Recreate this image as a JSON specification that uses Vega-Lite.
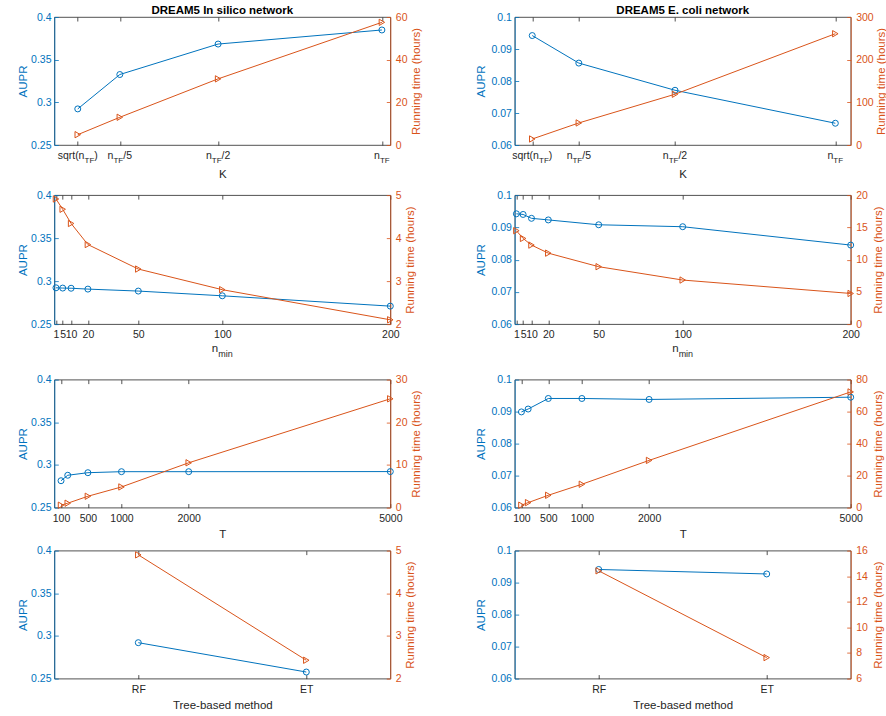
{
  "$schema": "https://vega.github.io/schema/vega-lite/v6.json",
  "background": "white",
  "autosize": {"type": "pad"},
  "padding": {"left": 16.3, "top": 4, "right": 5, "bottom": 5},
  "datasets": {
    "is_k": [
      {"K": 13.96, "label": "sqrt(nTF)", "AUPR": 0.2923, "time": 4.84},
      {"K": 39, "label": "nTF/5", "AUPR": 0.3326, "time": 13.0},
      {"K": 97.5, "label": "nTF/2", "AUPR": 0.3683, "time": 31.0},
      {"K": 195, "label": "nTF", "AUPR": 0.3848, "time": 57.5}
    ],
    "ec_k": [
      {"K": 18.28, "label": "sqrt(nTF)", "AUPR": 0.0942, "time": 14.1},
      {"K": 66.8, "label": "nTF/5", "AUPR": 0.0856, "time": 51.7},
      {"K": 167, "label": "nTF/2", "AUPR": 0.0771, "time": 119},
      {"K": 334, "label": "nTF", "AUPR": 0.0668, "time": 260.8}
    ],
    "is_nmin": [
      {"nmin": 1, "AUPR": 0.2922, "time": 4.91},
      {"nmin": 5, "AUPR": 0.2919, "time": 4.67},
      {"nmin": 10, "AUPR": 0.2917, "time": 4.34},
      {"nmin": 20, "AUPR": 0.2907, "time": 3.85},
      {"nmin": 50, "AUPR": 0.2884, "time": 3.28},
      {"nmin": 100, "AUPR": 0.2829, "time": 2.80},
      {"nmin": 200, "AUPR": 0.2709, "time": 2.10}
    ],
    "ec_nmin": [
      {"nmin": 1, "AUPR": 0.0942, "time": 14.48},
      {"nmin": 5, "AUPR": 0.0940, "time": 13.28},
      {"nmin": 10, "AUPR": 0.0928, "time": 12.25},
      {"nmin": 20, "AUPR": 0.0923, "time": 11.0},
      {"nmin": 50, "AUPR": 0.0908, "time": 8.9},
      {"nmin": 100, "AUPR": 0.0902, "time": 6.83},
      {"nmin": 200, "AUPR": 0.0845, "time": 4.75}
    ],
    "is_T": [
      {"T": 100, "AUPR": 0.2815, "time": 0.56},
      {"T": 200, "AUPR": 0.2879, "time": 1.03},
      {"T": 500, "AUPR": 0.2909, "time": 2.66},
      {"T": 1000, "AUPR": 0.2921, "time": 4.84},
      {"T": 2000, "AUPR": 0.2921, "time": 10.5},
      {"T": 5000, "AUPR": 0.2922, "time": 25.5}
    ],
    "ec_T": [
      {"T": 100, "AUPR": 0.0899, "time": 1.5},
      {"T": 200, "AUPR": 0.0908, "time": 3.1},
      {"T": 500, "AUPR": 0.0941, "time": 7.7},
      {"T": 1000, "AUPR": 0.0941, "time": 14.6},
      {"T": 2000, "AUPR": 0.0938, "time": 29.5},
      {"T": 5000, "AUPR": 0.0945, "time": 72.3}
    ],
    "is_m": [
      {"method": "RF", "AUPR": 0.2921, "time": 4.9},
      {"method": "ET", "AUPR": 0.2577, "time": 2.43}
    ],
    "ec_m": [
      {"method": "RF", "AUPR": 0.0941, "time": 14.42},
      {"method": "ET", "AUPR": 0.0927, "time": 7.64}
    ]
  },
  "vconcat": [
    {
      "hconcat": [
        {
          "width": 336, "height": 128,
          "title": {"text": "DREAM5 In silico network", "frame": "group", "anchor": "middle", "font": "Liberation Sans", "fontSize": 11.5, "fontWeight": "bold", "color": "#000000", "offset": -13.7, "baseline": "alphabetic"},
          "data": {"name": "is_k"},
          "layer": [
            {"mark": {"type": "line", "color": "#0072BD", "strokeWidth": 1},
             "encoding": {
               "x": {"field": "K", "type": "quantitative", "scale": {"domain": [0, 200], "nice": false, "zero": false}, "axis": {"orient": "bottom", "values": [13.96, 39, 97.5, 195], "labels": false, "title": "K", "titleY": 23.7}},
               "y": {"field": "AUPR", "type": "quantitative", "scale": {"domain": [0.25, 0.4], "nice": false, "zero": false}, "axis": {"orient": "left", "values": [0.25, 0.3, 0.35, 0.4], "format": ".2~f", "title": "AUPR", "titleX": -26}}}},
            {"mark": {"type": "point", "shape": "circle", "filled": false, "color": "#0072BD", "size": 36, "strokeWidth": 1, "opacity": 1},
             "encoding": {
               "x": {"field": "K", "type": "quantitative", "scale": {"domain": [0, 200], "nice": false, "zero": false}, "axis": null},
               "y": {"field": "AUPR", "type": "quantitative", "scale": {"domain": [0.25, 0.4], "nice": false, "zero": false}, "axis": null}}},
            {"transform": [{"filter": "datum.label === 'sqrt(nTF)'"}],
             "mark": {"type": "text", "text": "sqrt(n", "font": "Liberation Sans", "fontSize": 10.5, "color": "#262626", "align": "left", "baseline": "alphabetic", "dx": -20.1, "dy": 13.5},
             "encoding": {"x": {"field": "K", "type": "quantitative", "scale": {"domain": [0, 200], "nice": false, "zero": false}, "axis": null}, "y": {"datum": 0.25, "type": "quantitative", "scale": {"domain": [0.25, 0.4], "nice": false, "zero": false}, "axis": null}}},
            {"transform": [{"filter": "datum.label === 'sqrt(nTF)'"}],
             "mark": {"type": "text", "text": "TF", "font": "Liberation Sans", "fontSize": 8, "color": "#262626", "align": "left", "baseline": "alphabetic", "dx": 6.8, "dy": 18},
             "encoding": {"x": {"field": "K", "type": "quantitative", "scale": {"domain": [0, 200], "nice": false, "zero": false}, "axis": null}, "y": {"datum": 0.25, "type": "quantitative", "scale": {"domain": [0.25, 0.4], "nice": false, "zero": false}, "axis": null}}},
            {"transform": [{"filter": "datum.label === 'sqrt(nTF)'"}],
             "mark": {"type": "text", "text": ")", "font": "Liberation Sans", "fontSize": 10.5, "color": "#262626", "align": "left", "baseline": "alphabetic", "dx": 16.6, "dy": 13.5},
             "encoding": {"x": {"field": "K", "type": "quantitative", "scale": {"domain": [0, 200], "nice": false, "zero": false}, "axis": null}, "y": {"datum": 0.25, "type": "quantitative", "scale": {"domain": [0.25, 0.4], "nice": false, "zero": false}, "axis": null}}},
            {"transform": [{"filter": "datum.label === 'nTF/5' || datum.label === 'nTF/2'"}],
             "mark": {"type": "text", "text": "n", "font": "Liberation Sans", "fontSize": 10.5, "color": "#262626", "align": "left", "baseline": "alphabetic", "dx": -12.2, "dy": 13.5},
             "encoding": {"x": {"field": "K", "type": "quantitative", "scale": {"domain": [0, 200], "nice": false, "zero": false}, "axis": null}, "y": {"datum": 0.25, "type": "quantitative", "scale": {"domain": [0.25, 0.4], "nice": false, "zero": false}, "axis": null}}},
            {"transform": [{"filter": "datum.label === 'nTF/5' || datum.label === 'nTF/2'"}],
             "mark": {"type": "text", "text": "TF", "font": "Liberation Sans", "fontSize": 8, "color": "#262626", "align": "left", "baseline": "alphabetic", "dx": -6.35, "dy": 18},
             "encoding": {"x": {"field": "K", "type": "quantitative", "scale": {"domain": [0, 200], "nice": false, "zero": false}, "axis": null}, "y": {"datum": 0.25, "type": "quantitative", "scale": {"domain": [0.25, 0.4], "nice": false, "zero": false}, "axis": null}}},
            {"transform": [{"filter": "datum.label === 'nTF/5'"}],
             "mark": {"type": "text", "text": "/5", "font": "Liberation Sans", "fontSize": 10.5, "color": "#262626", "align": "left", "baseline": "alphabetic", "dx": 3.43, "dy": 13.5},
             "encoding": {"x": {"field": "K", "type": "quantitative", "scale": {"domain": [0, 200], "nice": false, "zero": false}, "axis": null}, "y": {"datum": 0.25, "type": "quantitative", "scale": {"domain": [0.25, 0.4], "nice": false, "zero": false}, "axis": null}}},
            {"transform": [{"filter": "datum.label === 'nTF/2'"}],
             "mark": {"type": "text", "text": "/2", "font": "Liberation Sans", "fontSize": 10.5, "color": "#262626", "align": "left", "baseline": "alphabetic", "dx": 3.43, "dy": 13.5},
             "encoding": {"x": {"field": "K", "type": "quantitative", "scale": {"domain": [0, 200], "nice": false, "zero": false}, "axis": null}, "y": {"datum": 0.25, "type": "quantitative", "scale": {"domain": [0.25, 0.4], "nice": false, "zero": false}, "axis": null}}},
            {"transform": [{"filter": "datum.label === 'nTF'"}],
             "mark": {"type": "text", "text": "n", "font": "Liberation Sans", "fontSize": 10.5, "color": "#262626", "align": "left", "baseline": "alphabetic", "dx": -7.8, "dy": 13.5},
             "encoding": {"x": {"field": "K", "type": "quantitative", "scale": {"domain": [0, 200], "nice": false, "zero": false}, "axis": null}, "y": {"datum": 0.25, "type": "quantitative", "scale": {"domain": [0.25, 0.4], "nice": false, "zero": false}, "axis": null}}},
            {"transform": [{"filter": "datum.label === 'nTF'"}],
             "mark": {"type": "text", "text": "TF", "font": "Liberation Sans", "fontSize": 8, "color": "#262626", "align": "left", "baseline": "alphabetic", "dx": -1.97, "dy": 18},
             "encoding": {"x": {"field": "K", "type": "quantitative", "scale": {"domain": [0, 200], "nice": false, "zero": false}, "axis": null}, "y": {"datum": 0.25, "type": "quantitative", "scale": {"domain": [0.25, 0.4], "nice": false, "zero": false}, "axis": null}}},
            {"mark": {"type": "line", "color": "#D95319", "strokeWidth": 1},
             "encoding": {
               "x": {"field": "K", "type": "quantitative", "scale": {"domain": [0, 200], "nice": false, "zero": false}, "axis": {"orient": "top", "values": [13.96, 39, 97.5, 195], "labels": false, "title": null}},
               "y": {"field": "time", "type": "quantitative", "scale": {"domain": [0, 60], "nice": false, "zero": false}, "axis": {"orient": "right", "values": [0, 20, 40, 60], "title": "Running time (hours)", "titleX": 20.5}}}},
            {"mark": {"type": "point", "shape": "triangle-right", "filled": false, "color": "#D95319", "size": 40, "strokeWidth": 1, "opacity": 1},
             "encoding": {
               "x": {"field": "K", "type": "quantitative", "scale": {"domain": [0, 200], "nice": false, "zero": false}, "axis": null},
               "y": {"field": "time", "type": "quantitative", "scale": {"domain": [0, 60], "nice": false, "zero": false}, "axis": null}}}
          ],
          "resolve": {"scale": {"y": "independent"}, "axis": {"x": "independent"}}
        },
        {
          "width": 336, "height": 128,
          "title": {"text": "DREAM5 E. coli network", "frame": "group", "anchor": "middle", "font": "Liberation Sans", "fontSize": 11.5, "fontWeight": "bold", "color": "#000000", "offset": -13.7, "baseline": "alphabetic"},
          "data": {"name": "ec_k"},
          "layer": [
            {"mark": {"type": "line", "color": "#0072BD", "strokeWidth": 1},
             "encoding": {
               "x": {"field": "K", "type": "quantitative", "scale": {"domain": [0, 350], "nice": false, "zero": false}, "axis": {"orient": "bottom", "values": [18.28, 66.8, 167, 334], "labels": false, "title": "K", "titleY": 23.7}},
               "y": {"field": "AUPR", "type": "quantitative", "scale": {"domain": [0.06, 0.1], "nice": false, "zero": false}, "axis": {"orient": "left", "values": [0.06, 0.07, 0.08, 0.09, 0.1], "format": ".2~f", "title": "AUPR", "titleX": -28.5}}}},
            {"mark": {"type": "point", "shape": "circle", "filled": false, "color": "#0072BD", "size": 36, "strokeWidth": 1, "opacity": 1},
             "encoding": {
               "x": {"field": "K", "type": "quantitative", "scale": {"domain": [0, 350], "nice": false, "zero": false}, "axis": null},
               "y": {"field": "AUPR", "type": "quantitative", "scale": {"domain": [0.06, 0.1], "nice": false, "zero": false}, "axis": null}}},
            {"transform": [{"filter": "datum.label === 'sqrt(nTF)'"}],
             "mark": {"type": "text", "text": "sqrt(n", "font": "Liberation Sans", "fontSize": 10.5, "color": "#262626", "align": "left", "baseline": "alphabetic", "dx": -20.1, "dy": 13.5},
             "encoding": {"x": {"field": "K", "type": "quantitative", "scale": {"domain": [0, 350], "nice": false, "zero": false}, "axis": null}, "y": {"datum": 0.06, "type": "quantitative", "scale": {"domain": [0.06, 0.1], "nice": false, "zero": false}, "axis": null}}},
            {"transform": [{"filter": "datum.label === 'sqrt(nTF)'"}],
             "mark": {"type": "text", "text": "TF", "font": "Liberation Sans", "fontSize": 8, "color": "#262626", "align": "left", "baseline": "alphabetic", "dx": 6.8, "dy": 18},
             "encoding": {"x": {"field": "K", "type": "quantitative", "scale": {"domain": [0, 350], "nice": false, "zero": false}, "axis": null}, "y": {"datum": 0.06, "type": "quantitative", "scale": {"domain": [0.06, 0.1], "nice": false, "zero": false}, "axis": null}}},
            {"transform": [{"filter": "datum.label === 'sqrt(nTF)'"}],
             "mark": {"type": "text", "text": ")", "font": "Liberation Sans", "fontSize": 10.5, "color": "#262626", "align": "left", "baseline": "alphabetic", "dx": 16.6, "dy": 13.5},
             "encoding": {"x": {"field": "K", "type": "quantitative", "scale": {"domain": [0, 350], "nice": false, "zero": false}, "axis": null}, "y": {"datum": 0.06, "type": "quantitative", "scale": {"domain": [0.06, 0.1], "nice": false, "zero": false}, "axis": null}}},
            {"transform": [{"filter": "datum.label === 'nTF/5' || datum.label === 'nTF/2'"}],
             "mark": {"type": "text", "text": "n", "font": "Liberation Sans", "fontSize": 10.5, "color": "#262626", "align": "left", "baseline": "alphabetic", "dx": -12.2, "dy": 13.5},
             "encoding": {"x": {"field": "K", "type": "quantitative", "scale": {"domain": [0, 350], "nice": false, "zero": false}, "axis": null}, "y": {"datum": 0.06, "type": "quantitative", "scale": {"domain": [0.06, 0.1], "nice": false, "zero": false}, "axis": null}}},
            {"transform": [{"filter": "datum.label === 'nTF/5' || datum.label === 'nTF/2'"}],
             "mark": {"type": "text", "text": "TF", "font": "Liberation Sans", "fontSize": 8, "color": "#262626", "align": "left", "baseline": "alphabetic", "dx": -6.35, "dy": 18},
             "encoding": {"x": {"field": "K", "type": "quantitative", "scale": {"domain": [0, 350], "nice": false, "zero": false}, "axis": null}, "y": {"datum": 0.06, "type": "quantitative", "scale": {"domain": [0.06, 0.1], "nice": false, "zero": false}, "axis": null}}},
            {"transform": [{"filter": "datum.label === 'nTF/5'"}],
             "mark": {"type": "text", "text": "/5", "font": "Liberation Sans", "fontSize": 10.5, "color": "#262626", "align": "left", "baseline": "alphabetic", "dx": 3.43, "dy": 13.5},
             "encoding": {"x": {"field": "K", "type": "quantitative", "scale": {"domain": [0, 350], "nice": false, "zero": false}, "axis": null}, "y": {"datum": 0.06, "type": "quantitative", "scale": {"domain": [0.06, 0.1], "nice": false, "zero": false}, "axis": null}}},
            {"transform": [{"filter": "datum.label === 'nTF/2'"}],
             "mark": {"type": "text", "text": "/2", "font": "Liberation Sans", "fontSize": 10.5, "color": "#262626", "align": "left", "baseline": "alphabetic", "dx": 3.43, "dy": 13.5},
             "encoding": {"x": {"field": "K", "type": "quantitative", "scale": {"domain": [0, 350], "nice": false, "zero": false}, "axis": null}, "y": {"datum": 0.06, "type": "quantitative", "scale": {"domain": [0.06, 0.1], "nice": false, "zero": false}, "axis": null}}},
            {"transform": [{"filter": "datum.label === 'nTF'"}],
             "mark": {"type": "text", "text": "n", "font": "Liberation Sans", "fontSize": 10.5, "color": "#262626", "align": "left", "baseline": "alphabetic", "dx": -7.8, "dy": 13.5},
             "encoding": {"x": {"field": "K", "type": "quantitative", "scale": {"domain": [0, 350], "nice": false, "zero": false}, "axis": null}, "y": {"datum": 0.06, "type": "quantitative", "scale": {"domain": [0.06, 0.1], "nice": false, "zero": false}, "axis": null}}},
            {"transform": [{"filter": "datum.label === 'nTF'"}],
             "mark": {"type": "text", "text": "TF", "font": "Liberation Sans", "fontSize": 8, "color": "#262626", "align": "left", "baseline": "alphabetic", "dx": -1.97, "dy": 18},
             "encoding": {"x": {"field": "K", "type": "quantitative", "scale": {"domain": [0, 350], "nice": false, "zero": false}, "axis": null}, "y": {"datum": 0.06, "type": "quantitative", "scale": {"domain": [0.06, 0.1], "nice": false, "zero": false}, "axis": null}}},
            {"mark": {"type": "line", "color": "#D95319", "strokeWidth": 1},
             "encoding": {
               "x": {"field": "K", "type": "quantitative", "scale": {"domain": [0, 350], "nice": false, "zero": false}, "axis": {"orient": "top", "values": [18.28, 66.8, 167, 334], "labels": false, "title": null}},
               "y": {"field": "time", "type": "quantitative", "scale": {"domain": [0, 300], "nice": false, "zero": false}, "axis": {"orient": "right", "values": [0, 100, 200, 300], "title": "Running time (hours)", "titleX": 24.5}}}},
            {"mark": {"type": "point", "shape": "triangle-right", "filled": false, "color": "#D95319", "size": 40, "strokeWidth": 1, "opacity": 1},
             "encoding": {
               "x": {"field": "K", "type": "quantitative", "scale": {"domain": [0, 350], "nice": false, "zero": false}, "axis": null},
               "y": {"field": "time", "type": "quantitative", "scale": {"domain": [0, 300], "nice": false, "zero": false}, "axis": null}}}
          ],
          "resolve": {"scale": {"y": "independent"}, "axis": {"x": "independent"}}
        }
      ],
      "spacing": 51.4
    },
    {
      "vconcat": [
        {
          "hconcat": [
            {
              "width": 336, "height": 129,
              "data": {"name": "is_nmin"},
              "layer": [
                {"mark": {"type": "line", "color": "#0072BD", "strokeWidth": 1},
                 "encoding": {
                   "x": {"field": "nmin", "type": "quantitative", "scale": {"domain": [0, 200], "nice": false, "zero": false}, "axis": {"orient": "bottom", "values": [1, 5, 10, 20, 50, 100, 200], "title": null}},
                   "y": {"field": "AUPR", "type": "quantitative", "scale": {"domain": [0.25, 0.4], "nice": false, "zero": false}, "axis": {"orient": "left", "values": [0.25, 0.3, 0.35, 0.4], "format": ".2~f", "title": "AUPR", "titleX": -26}}}},
                {"mark": {"type": "point", "shape": "circle", "filled": false, "color": "#0072BD", "size": 36, "strokeWidth": 1, "opacity": 1},
                 "encoding": {
                   "x": {"field": "nmin", "type": "quantitative", "scale": {"domain": [0, 200], "nice": false, "zero": false}, "axis": null},
                   "y": {"field": "AUPR", "type": "quantitative", "scale": {"domain": [0.25, 0.4], "nice": false, "zero": false}, "axis": null}}},
                {"transform": [{"filter": "datum.nmin === 100"}],
                 "mark": {"type": "text", "text": "n", "font": "Liberation Sans", "fontSize": 11.5, "color": "#262626", "align": "left", "baseline": "alphabetic", "dx": -10.45, "dy": 27.5},
                 "encoding": {"x": {"field": "nmin", "type": "quantitative", "scale": {"domain": [0, 200], "nice": false, "zero": false}, "axis": null}, "y": {"datum": 0.25, "type": "quantitative", "scale": {"domain": [0.25, 0.4], "nice": false, "zero": false}, "axis": null}}},
                {"transform": [{"filter": "datum.nmin === 100"}],
                 "mark": {"type": "text", "text": "min", "font": "Liberation Sans", "fontSize": 9, "color": "#262626", "align": "left", "baseline": "alphabetic", "dx": -4.06, "dy": 32.5},
                 "encoding": {"x": {"field": "nmin", "type": "quantitative", "scale": {"domain": [0, 200], "nice": false, "zero": false}, "axis": null}, "y": {"datum": 0.25, "type": "quantitative", "scale": {"domain": [0.25, 0.4], "nice": false, "zero": false}, "axis": null}}},
                {"mark": {"type": "line", "color": "#D95319", "strokeWidth": 1},
                 "encoding": {
                   "x": {"field": "nmin", "type": "quantitative", "scale": {"domain": [0, 200], "nice": false, "zero": false}, "axis": {"orient": "top", "values": [1, 5, 10, 20, 50, 100, 200], "labels": false, "title": null}},
                   "y": {"field": "time", "type": "quantitative", "scale": {"domain": [2, 5], "nice": false, "zero": false}, "axis": {"orient": "right", "values": [2, 3, 4, 5], "title": "Running time (hours)", "titleX": 14.5}}}},
                {"mark": {"type": "point", "shape": "triangle-right", "filled": false, "color": "#D95319", "size": 40, "strokeWidth": 1, "opacity": 1},
                 "encoding": {
                   "x": {"field": "nmin", "type": "quantitative", "scale": {"domain": [0, 200], "nice": false, "zero": false}, "axis": null},
                   "y": {"field": "time", "type": "quantitative", "scale": {"domain": [2, 5], "nice": false, "zero": false}, "axis": null}}}
              ],
              "resolve": {"scale": {"y": "independent"}, "axis": {"x": "independent"}}
            },
            {
              "width": 336, "height": 129,
              "data": {"name": "ec_nmin"},
              "layer": [
                {"mark": {"type": "line", "color": "#0072BD", "strokeWidth": 1},
                 "encoding": {
                   "x": {"field": "nmin", "type": "quantitative", "scale": {"domain": [0, 200], "nice": false, "zero": false}, "axis": {"orient": "bottom", "values": [1, 5, 10, 20, 50, 100, 200], "title": null}},
                   "y": {"field": "AUPR", "type": "quantitative", "scale": {"domain": [0.06, 0.1], "nice": false, "zero": false}, "axis": {"orient": "left", "values": [0.06, 0.07, 0.08, 0.09, 0.1], "format": ".2~f", "title": "AUPR", "titleX": -28.5}}}},
                {"mark": {"type": "point", "shape": "circle", "filled": false, "color": "#0072BD", "size": 36, "strokeWidth": 1, "opacity": 1},
                 "encoding": {
                   "x": {"field": "nmin", "type": "quantitative", "scale": {"domain": [0, 200], "nice": false, "zero": false}, "axis": null},
                   "y": {"field": "AUPR", "type": "quantitative", "scale": {"domain": [0.06, 0.1], "nice": false, "zero": false}, "axis": null}}},
                {"transform": [{"filter": "datum.nmin === 100"}],
                 "mark": {"type": "text", "text": "n", "font": "Liberation Sans", "fontSize": 11.5, "color": "#262626", "align": "left", "baseline": "alphabetic", "dx": -10.45, "dy": 27.5},
                 "encoding": {"x": {"field": "nmin", "type": "quantitative", "scale": {"domain": [0, 200], "nice": false, "zero": false}, "axis": null}, "y": {"datum": 0.06, "type": "quantitative", "scale": {"domain": [0.06, 0.1], "nice": false, "zero": false}, "axis": null}}},
                {"transform": [{"filter": "datum.nmin === 100"}],
                 "mark": {"type": "text", "text": "min", "font": "Liberation Sans", "fontSize": 9, "color": "#262626", "align": "left", "baseline": "alphabetic", "dx": -4.06, "dy": 32.5},
                 "encoding": {"x": {"field": "nmin", "type": "quantitative", "scale": {"domain": [0, 200], "nice": false, "zero": false}, "axis": null}, "y": {"datum": 0.06, "type": "quantitative", "scale": {"domain": [0.06, 0.1], "nice": false, "zero": false}, "axis": null}}},
                {"mark": {"type": "line", "color": "#D95319", "strokeWidth": 1},
                 "encoding": {
                   "x": {"field": "nmin", "type": "quantitative", "scale": {"domain": [0, 200], "nice": false, "zero": false}, "axis": {"orient": "top", "values": [1, 5, 10, 20, 50, 100, 200], "labels": false, "title": null}},
                   "y": {"field": "time", "type": "quantitative", "scale": {"domain": [0, 20], "nice": false, "zero": false}, "axis": {"orient": "right", "values": [0, 5, 10, 15, 20], "title": "Running time (hours)", "titleX": 22}}}},
                {"mark": {"type": "point", "shape": "triangle-right", "filled": false, "color": "#D95319", "size": 40, "strokeWidth": 1, "opacity": 1},
                 "encoding": {
                   "x": {"field": "nmin", "type": "quantitative", "scale": {"domain": [0, 200], "nice": false, "zero": false}, "axis": null},
                   "y": {"field": "time", "type": "quantitative", "scale": {"domain": [0, 20], "nice": false, "zero": false}, "axis": null}}}
              ],
              "resolve": {"scale": {"y": "independent"}, "axis": {"x": "independent"}}
            }
          ],
          "spacing": 57.4
        },
        {
          "vconcat": [
            {
              "hconcat": [
                {
                  "width": 336, "height": 128,
                  "data": {"name": "is_T"},
                  "layer": [
                    {"mark": {"type": "line", "color": "#0072BD", "strokeWidth": 1},
                     "encoding": {
                       "x": {"field": "T", "type": "quantitative", "scale": {"domain": [0, 5000], "nice": false, "zero": false}, "axis": {"orient": "bottom", "values": [100, 500, 1000, 2000, 5000], "format": "d", "title": "T", "titleY": 20.5}},
                       "y": {"field": "AUPR", "type": "quantitative", "scale": {"domain": [0.25, 0.4], "nice": false, "zero": false}, "axis": {"orient": "left", "values": [0.25, 0.3, 0.35, 0.4], "format": ".2~f", "title": "AUPR", "titleX": -26}}}},
                    {"mark": {"type": "point", "shape": "circle", "filled": false, "color": "#0072BD", "size": 36, "strokeWidth": 1, "opacity": 1},
                     "encoding": {
                       "x": {"field": "T", "type": "quantitative", "scale": {"domain": [0, 5000], "nice": false, "zero": false}, "axis": null},
                       "y": {"field": "AUPR", "type": "quantitative", "scale": {"domain": [0.25, 0.4], "nice": false, "zero": false}, "axis": null}}},
                    {"mark": {"type": "line", "color": "#D95319", "strokeWidth": 1},
                     "encoding": {
                       "x": {"field": "T", "type": "quantitative", "scale": {"domain": [0, 5000], "nice": false, "zero": false}, "axis": {"orient": "top", "values": [100, 500, 1000, 2000, 5000], "labels": false, "title": null}},
                       "y": {"field": "time", "type": "quantitative", "scale": {"domain": [0, 30], "nice": false, "zero": false}, "axis": {"orient": "right", "values": [0, 10, 20, 30], "title": "Running time (hours)", "titleX": 20.5}}}},
                    {"mark": {"type": "point", "shape": "triangle-right", "filled": false, "color": "#D95319", "size": 40, "strokeWidth": 1, "opacity": 1},
                     "encoding": {
                       "x": {"field": "T", "type": "quantitative", "scale": {"domain": [0, 5000], "nice": false, "zero": false}, "axis": null},
                       "y": {"field": "time", "type": "quantitative", "scale": {"domain": [0, 30], "nice": false, "zero": false}, "axis": null}}}
                  ],
                  "resolve": {"scale": {"y": "independent"}, "axis": {"x": "independent"}}
                },
                {
                  "width": 336, "height": 128,
                  "data": {"name": "ec_T"},
                  "layer": [
                    {"mark": {"type": "line", "color": "#0072BD", "strokeWidth": 1},
                     "encoding": {
                       "x": {"field": "T", "type": "quantitative", "scale": {"domain": [0, 5000], "nice": false, "zero": false}, "axis": {"orient": "bottom", "values": [100, 500, 1000, 2000, 5000], "format": "d", "title": "T", "titleY": 20.5}},
                       "y": {"field": "AUPR", "type": "quantitative", "scale": {"domain": [0.06, 0.1], "nice": false, "zero": false}, "axis": {"orient": "left", "values": [0.06, 0.07, 0.08, 0.09, 0.1], "format": ".2~f", "title": "AUPR", "titleX": -28.5}}}},
                    {"mark": {"type": "point", "shape": "circle", "filled": false, "color": "#0072BD", "size": 36, "strokeWidth": 1, "opacity": 1},
                     "encoding": {
                       "x": {"field": "T", "type": "quantitative", "scale": {"domain": [0, 5000], "nice": false, "zero": false}, "axis": null},
                       "y": {"field": "AUPR", "type": "quantitative", "scale": {"domain": [0.06, 0.1], "nice": false, "zero": false}, "axis": null}}},
                    {"mark": {"type": "line", "color": "#D95319", "strokeWidth": 1},
                     "encoding": {
                       "x": {"field": "T", "type": "quantitative", "scale": {"domain": [0, 5000], "nice": false, "zero": false}, "axis": {"orient": "top", "values": [100, 500, 1000, 2000, 5000], "labels": false, "title": null}},
                       "y": {"field": "time", "type": "quantitative", "scale": {"domain": [0, 80], "nice": false, "zero": false}, "axis": {"orient": "right", "values": [0, 20, 40, 60, 80], "title": "Running time (hours)", "titleX": 22}}}},
                    {"mark": {"type": "point", "shape": "triangle-right", "filled": false, "color": "#D95319", "size": 40, "strokeWidth": 1, "opacity": 1},
                     "encoding": {
                       "x": {"field": "T", "type": "quantitative", "scale": {"domain": [0, 5000], "nice": false, "zero": false}, "axis": null},
                       "y": {"field": "time", "type": "quantitative", "scale": {"domain": [0, 80], "nice": false, "zero": false}, "axis": null}}}
                  ],
                  "resolve": {"scale": {"y": "independent"}, "axis": {"x": "independent"}}
                }
              ],
              "spacing": 51.4
            },
            {
              "hconcat": [
                {
                  "width": 336, "height": 128,
                  "data": {"name": "is_m"},
                  "layer": [
                    {"mark": {"type": "line", "color": "#0072BD", "strokeWidth": 1},
                     "encoding": {
                       "x": {"field": "method", "type": "nominal", "scale": {"type": "point", "domain": ["RF", "ET"], "padding": 0.5}, "axis": {"orient": "bottom", "ticks": true, "title": "Tree-based method", "titleY": 20.5}},
                       "y": {"field": "AUPR", "type": "quantitative", "scale": {"domain": [0.25, 0.4], "nice": false, "zero": false}, "axis": {"orient": "left", "values": [0.25, 0.3, 0.35, 0.4], "format": ".2~f", "title": "AUPR", "titleX": -26}}}},
                    {"mark": {"type": "point", "shape": "circle", "filled": false, "color": "#0072BD", "size": 36, "strokeWidth": 1, "opacity": 1},
                     "encoding": {
                       "x": {"field": "method", "type": "nominal", "scale": {"type": "point", "domain": ["RF", "ET"], "padding": 0.5}, "axis": null},
                       "y": {"field": "AUPR", "type": "quantitative", "scale": {"domain": [0.25, 0.4], "nice": false, "zero": false}, "axis": null}}},
                    {"mark": {"type": "line", "color": "#D95319", "strokeWidth": 1},
                     "encoding": {
                       "x": {"field": "method", "type": "nominal", "scale": {"type": "point", "domain": ["RF", "ET"], "padding": 0.5}, "axis": {"orient": "top", "ticks": true, "labels": false, "title": null}},
                       "y": {"field": "time", "type": "quantitative", "scale": {"domain": [2, 5], "nice": false, "zero": false}, "axis": {"orient": "right", "values": [2, 3, 4, 5], "title": "Running time (hours)", "titleX": 14.5}}}},
                    {"mark": {"type": "point", "shape": "triangle-right", "filled": false, "color": "#D95319", "size": 40, "strokeWidth": 1, "opacity": 1},
                     "encoding": {
                       "x": {"field": "method", "type": "nominal", "scale": {"type": "point", "domain": ["RF", "ET"], "padding": 0.5}, "axis": null},
                       "y": {"field": "time", "type": "quantitative", "scale": {"domain": [2, 5], "nice": false, "zero": false}, "axis": null}}}
                  ],
                  "resolve": {"scale": {"y": "independent"}, "axis": {"x": "independent"}}
                },
                {
                  "width": 336, "height": 128,
                  "data": {"name": "ec_m"},
                  "layer": [
                    {"mark": {"type": "line", "color": "#0072BD", "strokeWidth": 1},
                     "encoding": {
                       "x": {"field": "method", "type": "nominal", "scale": {"type": "point", "domain": ["RF", "ET"], "padding": 0.5}, "axis": {"orient": "bottom", "ticks": true, "title": "Tree-based method", "titleY": 20.5}},
                       "y": {"field": "AUPR", "type": "quantitative", "scale": {"domain": [0.06, 0.1], "nice": false, "zero": false}, "axis": {"orient": "left", "values": [0.06, 0.07, 0.08, 0.09, 0.1], "format": ".2~f", "title": "AUPR", "titleX": -28.5}}}},
                    {"mark": {"type": "point", "shape": "circle", "filled": false, "color": "#0072BD", "size": 36, "strokeWidth": 1, "opacity": 1},
                     "encoding": {
                       "x": {"field": "method", "type": "nominal", "scale": {"type": "point", "domain": ["RF", "ET"], "padding": 0.5}, "axis": null},
                       "y": {"field": "AUPR", "type": "quantitative", "scale": {"domain": [0.06, 0.1], "nice": false, "zero": false}, "axis": null}}},
                    {"mark": {"type": "line", "color": "#D95319", "strokeWidth": 1},
                     "encoding": {
                       "x": {"field": "method", "type": "nominal", "scale": {"type": "point", "domain": ["RF", "ET"], "padding": 0.5}, "axis": {"orient": "top", "ticks": true, "labels": false, "title": null}},
                       "y": {"field": "time", "type": "quantitative", "scale": {"domain": [6, 16], "nice": false, "zero": false}, "axis": {"orient": "right", "values": [6, 8, 10, 12, 14, 16], "title": "Running time (hours)", "titleX": 22}}}},
                    {"mark": {"type": "point", "shape": "triangle-right", "filled": false, "color": "#D95319", "size": 40, "strokeWidth": 1, "opacity": 1},
                     "encoding": {
                       "x": {"field": "method", "type": "nominal", "scale": {"type": "point", "domain": ["RF", "ET"], "padding": 0.5}, "axis": null},
                       "y": {"field": "time", "type": "quantitative", "scale": {"domain": [6, 16], "nice": false, "zero": false}, "axis": null}}}
                  ],
                  "resolve": {"scale": {"y": "independent"}, "axis": {"x": "independent"}}
                }
              ],
              "spacing": 57.4
            }
          ],
          "spacing": 4.0
        }
      ],
      "spacing": 14.5
    }
  ],
  "spacing": 8.1,
  "config": {
    "font": "Liberation Sans",
    "view": {"stroke": "#262626", "strokeWidth": 0.8},
    "axis": {
      "grid": false,
      "tickSize": -4,
      "tickWidth": 0.8,
      "domainWidth": 0.8,
      "labelFont": "Liberation Sans",
      "labelFontSize": 10.5,
      "titleFont": "Liberation Sans",
      "titleFontSize": 11.5,
      "titleFontWeight": "normal",
      "labelColor": "#262626",
      "tickColor": "#262626",
      "titleColor": "#262626",
      "domainColor": "#262626"
    },
    "axisX": {
      "domain": false,
      "labelPadding": 9.5,
      "labelFlush": false,
      "labelOverlap": false,
      "labelAngle": 0,
      "titleBaseline": "top"
    },
    "axisLeft": {
      "labelPadding": 7.3,
      "labelColor": "#0072BD",
      "tickColor": "#0072BD",
      "domainColor": "#0072BD",
      "titleColor": "#0072BD",
      "titleAngle": 270,
      "titleBaseline": "bottom"
    },
    "axisRight": {
      "labelPadding": 9,
      "labelColor": "#D95319",
      "tickColor": "#D95319",
      "domainColor": "#D95319",
      "titleColor": "#D95319",
      "titleAngle": 270,
      "titleBaseline": "top"
    }
  }
}
